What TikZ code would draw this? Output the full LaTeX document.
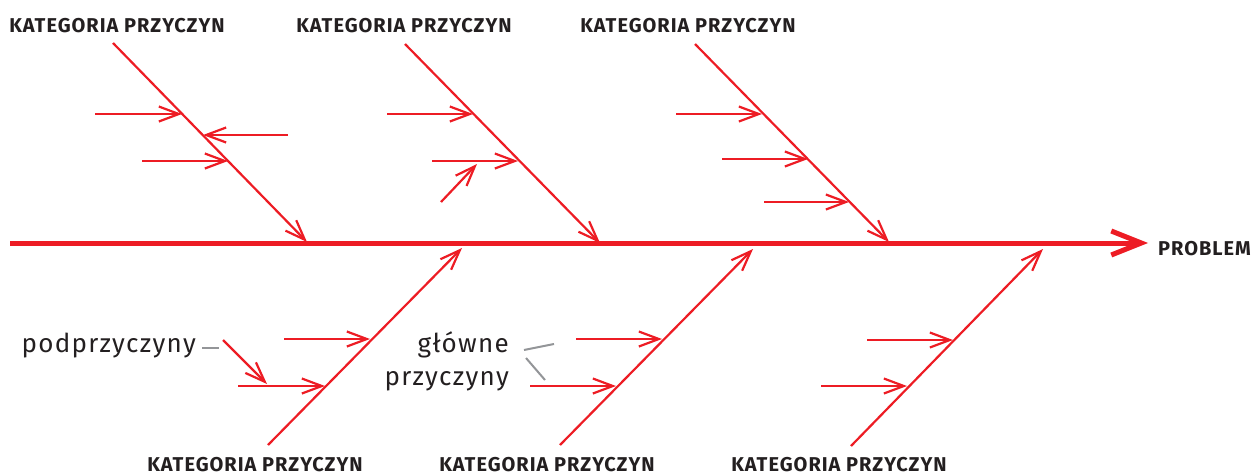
\documentclass[tikz,border=0pt]{standalone}
\usepackage{fontspec}
\setmainfont{Fira Sans}
\newfontfamily\catfont[LetterSpace=5]{Fira Sans}
\newfontfamily\notefont[LetterSpace=5]{Fira Sans}
\usetikzlibrary{arrows.meta,positioning}

\definecolor{fishred}{HTML}{ED1C24}
\definecolor{inkgray}{HTML}{231F20}
\definecolor{leadgray}{HTML}{939598}

\begin{document}
\begin{tikzpicture}[x=1pt,y=-1pt,
		bone/.style={every edge/.style={draw=fishred, line width=2.2pt, -{Straight Barb[length=20pt,width=15pt]}}},
		spine/.style={every edge/.style={draw=fishred, line width=5pt, -{Straight Barb[length=30pt,width=24pt]}}},
		lead/.style={every edge/.style={draw=leadgray, line width=2pt}},
		cat/.style={font=\catfont\bfseries\fontsize{20}{20}\selectfont, text=inkgray, inner sep=0pt, anchor=base},
		note/.style={font=\notefont\fontsize{26}{26}\selectfont, text=inkgray, inner sep=0pt, anchor=base east}]
		\useasboundingbox (0,0) rectangle (1252,474);
		% spine
		\draw (10,243) coordinate (tail);
		\draw (1148,243) coordinate (head);
		\draw (1158,255) node [cat, anchor=base west] (problem) {PROBLEM};
		% upper bones
		\draw (113,43) coordinate (u1s);
		\draw (307,242) coordinate (u1e);
		\draw (405,44) coordinate (u2s);
		\draw (600,243) coordinate (u2e);
		\draw (695,44) coordinate (u3s);
		\draw (889,242) coordinate (u3e);
		% lower bones
		\draw (268,445) coordinate (l1s);
		\draw (462,248) coordinate (l1e);
		\draw (560,445) coordinate (l2s);
		\draw (753,249) coordinate (l2e);
		\draw (851,446) coordinate (l3s);
		\draw (1043,249) coordinate (l3e);
		% categories
		\draw (117,32) node [cat] (c1) {KATEGORIA PRZYCZYN};
		\draw (404,32) node [cat] (c2) {KATEGORIA PRZYCZYN};
		\draw (688,32) node [cat] (c3) {KATEGORIA PRZYCZYN};
		\draw (255,471) node [cat] (c4) {KATEGORIA PRZYCZYN};
		\draw (547,471) node [cat] (c5) {KATEGORIA PRZYCZYN};
		\draw (839,471) node [cat] (c6) {KATEGORIA PRZYCZYN};
		% causes on the bones
		\draw (95,114) coordinate (a1) (182,114) coordinate (b1);
		\draw (288,135) coordinate (a2) (203,135) coordinate (b2);
		\draw (142,161) coordinate (a3) (228,161) coordinate (b3);
		\draw (387,114) coordinate (a4) (473,114) coordinate (b4);
		\draw (432,161) coordinate (a5) (518,161) coordinate (b5);
		\draw (441,202) coordinate (a6) (477,164) coordinate (b6);
		\draw (676,114) coordinate (a7) (762,114) coordinate (b7);
		\draw (722,159) coordinate (a8) (808,159) coordinate (b8);
		\draw (764,202) coordinate (a9) (849,202) coordinate (b9);
		\draw (284,339) coordinate (d1) (370,339) coordinate (e1);
		\draw (238,386) coordinate (d2) (325,386) coordinate (e2);
		\draw (223,340) coordinate (d3) (267,384) coordinate (e3);
		\draw (576,339) coordinate (d4) (662,339) coordinate (e4);
		\draw (530,386) coordinate (d5) (616,386) coordinate (e5);
		\draw (867,340) coordinate (d6) (953,340) coordinate (e6);
		\draw (821,386) coordinate (d7) (907,386) coordinate (e7);
		% notes
		\draw (196,352) node [note] (sub) {podprzyczyny};
		\draw (509,352) node [note] (mainA) {główne};
		\draw (509,385) node [note] (mainB) {przyczyny};
		\draw (202,348) coordinate (subL) (219,348) coordinate (subR);
		\draw (524,350) coordinate (m1) (554,344) coordinate (m2);
		\draw (526,358) coordinate (m3) (545,380) coordinate (m4);
		\path[spine] (tail) edge (head);
		\path[bone]
			(u1s) edge (u1e)
			(u2s) edge (u2e)
			(u3s) edge (u3e)
			(l1s) edge (l1e)
			(l2s) edge (l2e)
			(l3s) edge (l3e)
			(a1) edge (b1) (a2) edge (b2) (a3) edge (b3)
			(a4) edge (b4) (a5) edge (b5) (a6) edge (b6)
			(a7) edge (b7) (a8) edge (b8) (a9) edge (b9)
			(d1) edge (e1) (d2) edge (e2) (d3) edge (e3)
			(d4) edge (e4) (d5) edge (e5)
			(d6) edge (e6) (d7) edge (e7);
		\path[lead]
			(subL) edge (subR)
			(m1) edge (m2)
			(m3) edge (m4);
	\end{tikzpicture}
\end{document}
